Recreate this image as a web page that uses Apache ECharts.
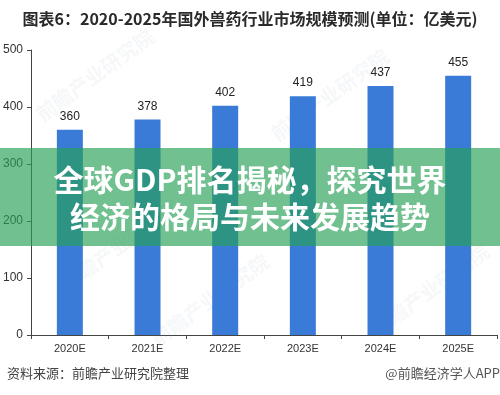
<!DOCTYPE html>
<html><head><meta charset="utf-8">
<script src="https://cdn.jsdelivr.net/npm/echarts@6/dist/echarts.min.js"></script>
<style>html,body{margin:0;padding:0;background:#fff}#c{width:500px;height:395px}</style>
</head><body><div id="c"></div>
<script>
const categories = ['2020E','2021E','2022E','2023E','2024E','2025E'];
const values = [360, 378, 402, 419, 437, 455];
const titleText = '图表6：2020-2025年国外兽药行业市场规模预测(单位：亿美元)';
const bannerLines = ['全球GDP排名揭秘，探究世界', '经济的格局与未来发展趋势'];
const sourceText = '资料来源：前瞻产业研究院整理';
const brandText = '@前瞻经济学人APP';
const watermarks = [[95,75],[330,95],[210,300],[430,290],[120,245]];

const font = '"Noto Sans CJK SC", "Noto Sans", sans-serif';
const chart = echarts.init(document.getElementById('c'));
const graphics = [];
watermarks.forEach(p => graphics.push({
  type:'text', x:p[0], y:p[1], rotation: Math.PI/5, z: 1,
  style:{text:'前瞻产业研究院', fill:'rgba(120,140,170,0.07)', font:'bold 20px ' + font, textAlign:'center', textVerticalAlign:'middle'}
}));
graphics.push(
  {type:'text', left:'center', top:11, style:{text:titleText, fill:'#2a2a2a', font:'bold 16px ' + font}},
  {type:'rect', shape:{x:0, y:148, width:500, height:98}, style:{fill:'rgba(40,160,86,0.66)'}, z:100},
  {type:'text', x:250, y:180, z:101, style:{text:bannerLines[0], fill:'#fff', font:'bold 30px ' + font, textAlign:'center', textVerticalAlign:'middle'}},
  {type:'text', x:250, y:217, z:101, style:{text:bannerLines[1], fill:'#fff', font:'bold 30px ' + font, textAlign:'center', textVerticalAlign:'middle'}},
  {type:'text', x:7, y:373, style:{text:sourceText, fill:'#444', font:'13px ' + font, textVerticalAlign:'middle'}},
  {type:'text', x:500, y:373, style:{text:brandText, fill:'#555', font:'13px ' + font, textAlign:'right', textVerticalAlign:'middle'}}
);
chart.setOption({
  animation:false,
  backgroundColor:'#fff',
  grid:{left:31, right:3, top:50, bottom:60, containLabel:false},
  xAxis:{type:'category', data:categories,
    axisLine:{lineStyle:{color:'#444'}}, axisTick:{show:true, length:4, lineStyle:{color:'#444'}},
    axisLabel:{color:'#333', fontSize:11, margin:8, fontFamily:'Arial, "Liberation Sans", sans-serif'}},
  yAxis:{type:'value', min:0, max:500, interval:100,
    axisLine:{show:true, lineStyle:{color:'#444'}}, axisTick:{show:true, length:4, lineStyle:{color:'#444'}},
    splitLine:{show:false},
    axisLabel:{color:'#333', fontSize:12, margin:8, fontFamily:'Arial, "Liberation Sans", sans-serif'}},
  series:[{type:'bar', data:values, barWidth:26, itemStyle:{color:'#3a7bd8'},
    label:{show:true, position:'top', distance:7, color:'#222', fontSize:12, fontFamily:'Arial, "Liberation Sans", sans-serif'}}],
  graphic: graphics
});
</script></body></html>
